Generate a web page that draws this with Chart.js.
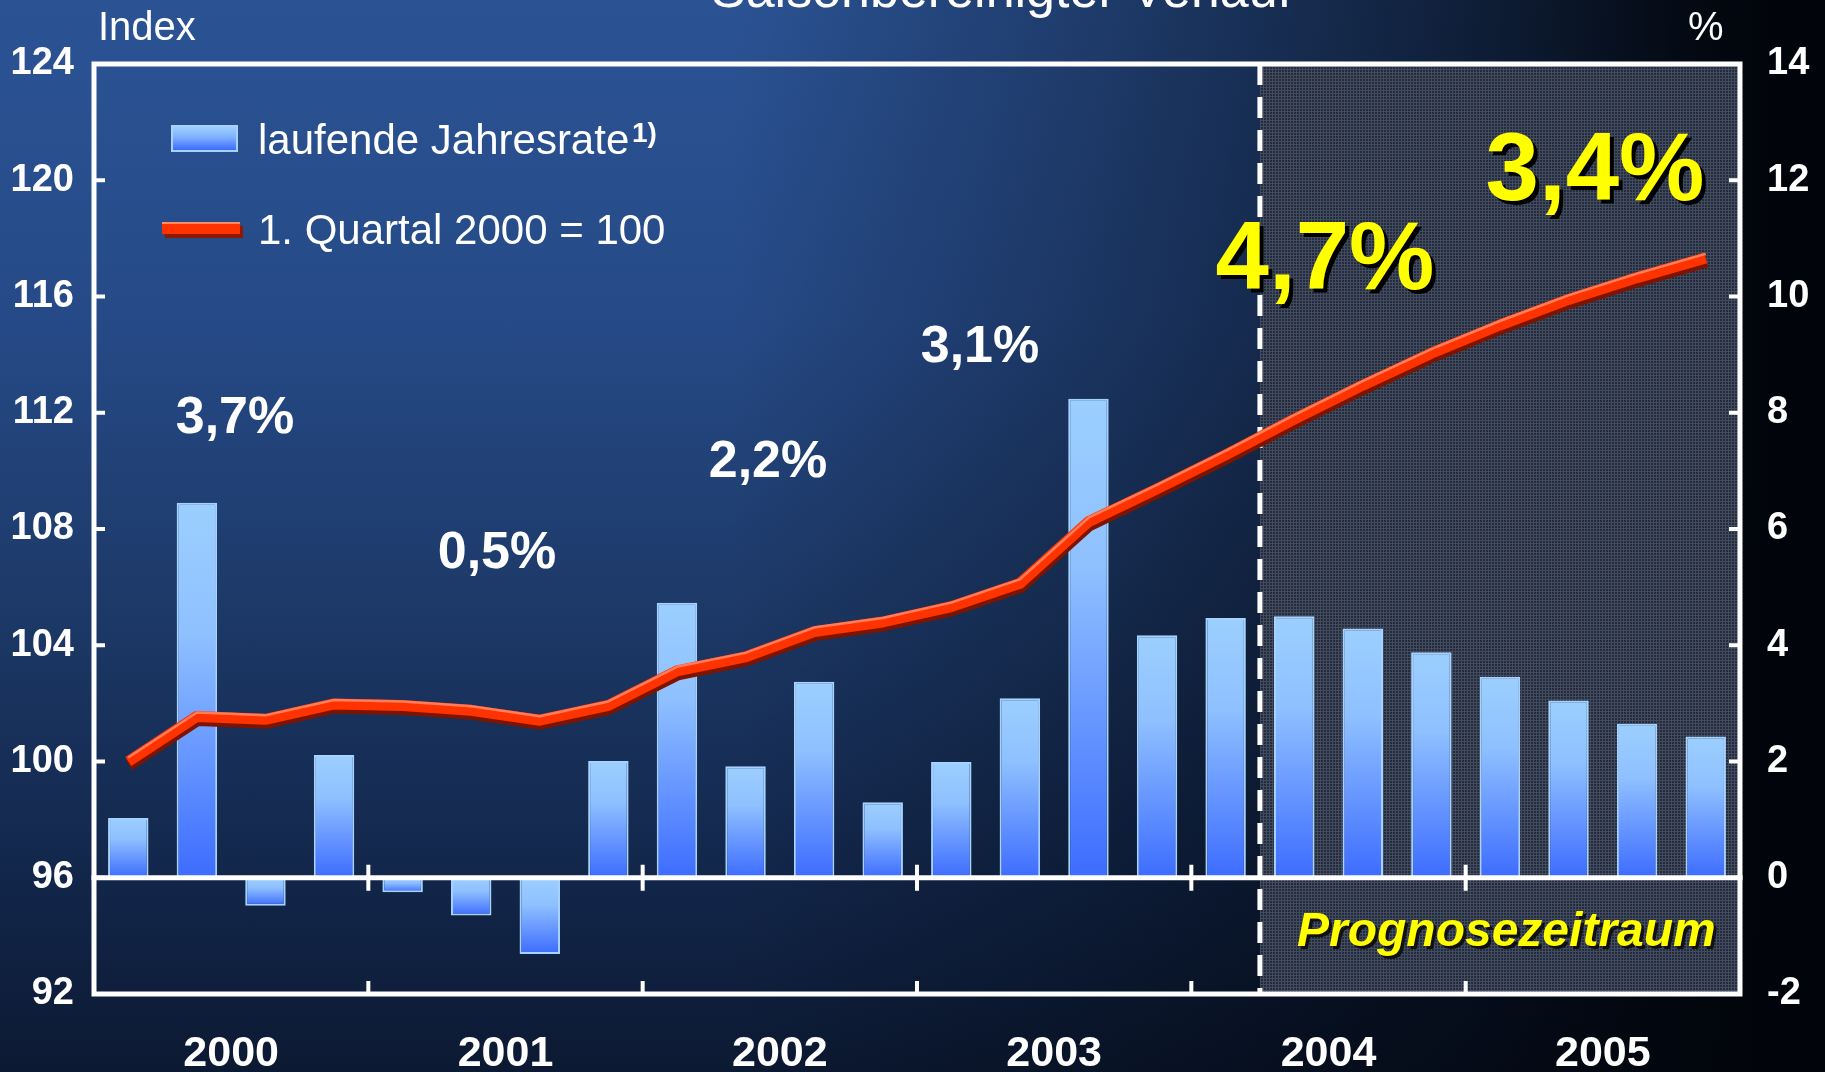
<!DOCTYPE html>
<html lang="de">
<head>
<meta charset="utf-8">
<title>Saisonbereinigter Verlauf</title>
<script src="https://cdn.jsdelivr.net/npm/chart.js@4"></script>
<style>
  html, body {
    margin: 0;
    padding: 0;
    background: #000;
  }
  .stage {
    position: relative;
    width: 1825px;
    height: 1072px;
    overflow: hidden;
    font-family: "Liberation Sans", Arial, sans-serif;
    color: #fff;
    background:
      linear-gradient(90deg, rgba(1, 4, 10, 0) 0%, rgba(1, 4, 10, 0) 40%, rgba(1, 4, 10, 0.3) 60%, rgba(1, 4, 10, 0.65) 80%, rgba(1, 4, 10, 0.92) 92%, rgba(1, 4, 10, 1) 97%),
      linear-gradient(180deg, #2b5394 0%, #264a87 30%, #1c3866 58%, #12264a 82%, #0c1932 100%);
  }
  .stage canvas {
    position: absolute;
    left: 0;
    top: 0;
  }
  .txt {
    position: absolute;
    white-space: nowrap;
    line-height: 1;
  }
  .center {
    text-align: center;
    width: 400px;
  }
  .rate {
    font-weight: bold;
    font-size: 52px;
  }
  .big {
    font-weight: bold;
    font-size: 96px;
    color: #ffff00;
    text-shadow: 4px 4px 0 #000;
  }
  .legend-box {
    position: absolute;
    left: 171px;
    top: 125px;
    width: 63px;
    height: 23px;
    border: 2px solid #a5d2ff;
    background: linear-gradient(180deg, #9dd0ff 0%, #7fb0ff 45%, #3c6cff 100%);
  }
  .legend-line {
    position: absolute;
    left: 162px;
    top: 222px;
    width: 78px;
    height: 10px;
    background: #ff3300;
    border-top: 2px solid #ff8a66;
    box-shadow: 3px 4px 0 #8a1a00;
  }
</style>
</head>
<body>
<div class="stage">
  <canvas id="growthChart" width="1825" height="1072"></canvas>

  <div class="txt center" style="left:711px; top:-37px; font-size:52px;">Saisonbereinigter Verlauf</div>
  <div class="txt" style="left:98px; top:6px; font-size:40px;">Index</div>
  <div class="txt" style="left:1688px; top:6px; font-size:40px;">%</div>

  <div class="legend-box"></div>
  <div class="txt" style="left:258px; top:119px; font-size:42px;">laufende Jahresrate</div>
  <div class="txt" style="left:632px; top:119px; font-size:28px; font-weight:bold;">1)</div>
  <div class="legend-line"></div>
  <div class="txt" style="left:258px; top:209px; font-size:42px;">1. Quartal 2000 = 100</div>

  <div class="txt center rate" style="left:35px; top:389px;">3,7%</div>
  <div class="txt center rate" style="left:297px; top:524px;">0,5%</div>
  <div class="txt center rate" style="left:568px; top:433px;">2,2%</div>
  <div class="txt center rate" style="left:780px; top:318px;">3,1%</div>
  <div class="txt center big" style="left:1125px; top:208px;">4,7%</div>
  <div class="txt center big" style="left:1395px; top:119px;">3,4%</div>

  <div class="txt" style="left:1297px; top:906px; font-size:48px; font-weight:bold; font-style:italic; color:#ffff00; text-shadow:3px 3px 0 #111;">Prognosezeitraum</div>
</div>

<script>
  // Quarters 2000 Q1 - 2005 Q4
  const quarters = [
    "2000 Q1", "2000 Q2", "2000 Q3", "2000 Q4",
    "2001 Q1", "2001 Q2", "2001 Q3", "2001 Q4",
    "2002 Q1", "2002 Q2", "2002 Q3", "2002 Q4",
    "2003 Q1", "2003 Q2", "2003 Q3", "2003 Q4",
    "2004 Q1", "2004 Q2", "2004 Q3", "2004 Q4",
    "2005 Q1", "2005 Q2", "2005 Q3", "2005 Q4",
  ];
  const yearLabels = ["2000", "2001", "2002", "2003", "2004", "2005"];

  // laufende Jahresrate, % (right axis)
  const annualRate = [
    1.03, 6.45, -0.48, 2.11,
    -0.25, -0.65, -1.31, 2.01,
    4.73, 1.92, 3.37, 1.3,
    1.99, 3.09, 8.24, 4.17,
    4.47, 4.5, 4.29, 3.88,
    3.46, 3.05, 2.65, 2.43,
  ];

  // Index, 1. Quartal 2000 = 100 (left axis)
  const indexLevel = [
    100, 101.55, 101.45, 101.98,
    101.93, 101.76, 101.42, 101.93,
    103.12, 103.6, 104.47, 104.8,
    105.33, 106.13, 108.25, 109.38,
    110.55, 111.78, 112.95, 114.05,
    115.02, 115.9, 116.65, 117.33,
  ];

  const leftTicks = { min: 92, max: 124, step: 4 };
  const rightTicks = { min: -2, max: 14, step: 2 };
  const forecastStart = 17; // first quarter of the Prognosezeitraum

  Chart.defaults.font.family = '"Liberation Sans", Arial, sans-serif';
  Chart.defaults.color = "#ffffff";

  // small textured pattern for the forecast area
  function makePattern(ctx) {
    const p = document.createElement("canvas");
    p.width = 3;
    p.height = 3;
    const pc = p.getContext("2d");
    pc.fillStyle = "#232b3d";
    pc.fillRect(0, 0, 3, 3);
    pc.fillStyle = "#434c5f";
    pc.fillRect(0, 0, 3, 1);
    pc.fillRect(0, 0, 1, 3);
    return ctx.createPattern(p, "repeat");
  }

  function boundaryX(x, i) {
    return (x.getPixelForValue(i - 1) + x.getPixelForValue(i)) / 2;
  }

  // forecast background, dashed separator, frame, zero line and inward ticks
  const decorations = {
    id: "decorations",
    beforeDatasetsDraw(chart) {
      const { ctx, chartArea: a, scales } = chart;
      const fx = boundaryX(scales.x, forecastStart);
      ctx.save();
      ctx.fillStyle = makePattern(ctx);
      ctx.fillRect(fx, a.top, a.right - fx, a.bottom - a.top);
      ctx.strokeStyle = "#ffffff";
      ctx.lineWidth = 5;
      ctx.setLineDash([21, 12]);
      ctx.beginPath();
      ctx.moveTo(fx, a.top);
      ctx.lineTo(fx, a.bottom);
      ctx.stroke();
      ctx.restore();
    },
    afterDatasetsDraw(chart) {
      const { ctx, chartArea: a, scales } = chart;
      const zeroY = scales.y2.getPixelForValue(0);
      ctx.save();
      ctx.strokeStyle = "#ffffff";
      ctx.lineWidth = 5;
      ctx.lineCap = "square";

      // frame
      ctx.strokeRect(a.left, a.top, a.right - a.left, a.bottom - a.top);

      // zero line
      ctx.beginPath();
      ctx.moveTo(a.left, zeroY);
      ctx.lineTo(a.right, zeroY);
      ctx.stroke();

      ctx.lineCap = "butt";
      ctx.lineWidth = 4;
      ctx.beginPath();
      // left axis ticks
      for (let v = leftTicks.min + leftTicks.step; v < leftTicks.max; v += leftTicks.step) {
        const y = scales.y.getPixelForValue(v);
        ctx.moveTo(a.left, y);
        ctx.lineTo(a.left + 11, y);
      }
      // right axis ticks
      for (let v = rightTicks.min + rightTicks.step; v < rightTicks.max; v += rightTicks.step) {
        const y = scales.y2.getPixelForValue(v);
        ctx.moveTo(a.right, y);
        ctx.lineTo(a.right - 11, y);
      }
      // year boundaries
      for (let i = 4; i < quarters.length; i += 4) {
        const x = boundaryX(scales.x, i);
        ctx.moveTo(x, zeroY - 13);
        ctx.lineTo(x, zeroY + 13);
        ctx.moveTo(x, a.bottom);
        ctx.lineTo(x, a.bottom - 13);
      }
      ctx.stroke();
      ctx.restore();
    },
  };

  // shadow and highlight for the index line
  const lineStyle = {
    id: "lineStyle",
    beforeDatasetDraw(chart, args) {
      if (args.meta.type !== "line") return;
      const ctx = chart.ctx;
      ctx.save();
      ctx.shadowColor = "#7d1400";
      ctx.shadowOffsetX = 1;
      ctx.shadowOffsetY = 4;
    },
    afterDatasetDraw(chart, args) {
      if (args.meta.type !== "line") return;
      const ctx = chart.ctx;
      ctx.restore();
      const pts = args.meta.data;
      ctx.save();
      ctx.beginPath();
      pts.forEach((p, i) => {
        if (i === 0) ctx.moveTo(p.x, p.y - 4);
        else ctx.lineTo(p.x, p.y - 4);
      });
      ctx.strokeStyle = "rgba(255, 130, 95, 0.95)";
      ctx.lineWidth = 2.5;
      ctx.lineJoin = "round";
      ctx.stroke();
      ctx.restore();
    },
  };

  function barGradient(c) {
    const chart = c.chart;
    const y2 = chart.scales.y2;
    if (!y2 || c.raw === undefined) return "#7fb0ff";
    const y0 = y2.getPixelForValue(0);
    const y1 = y2.getPixelForValue(c.raw);
    if (!Number.isFinite(y0) || !Number.isFinite(y1) || y0 === y1) return "#7fb0ff";
    const g = chart.ctx.createLinearGradient(0, Math.min(y0, y1), 0, Math.max(y0, y1));
    g.addColorStop(0, "#9ccfff");
    g.addColorStop(0.35, "#8fc0ff");
    g.addColorStop(1, "#3d6cff");
    return g;
  }

  const tickFont = { size: 38, weight: "bold" };

  new Chart(document.getElementById("growthChart"), {
    data: {
      labels: quarters,
      datasets: [
        {
          type: "line",
          label: "1. Quartal 2000 = 100",
          data: indexLevel,
          yAxisID: "y",
          borderColor: "#ff3300",
          borderWidth: 11,
          borderJoinStyle: "round",
          borderCapStyle: "butt",
          pointRadius: 0,
          tension: 0,
          order: 0,
        },
        {
          type: "bar",
          label: "laufende Jahresrate",
          data: annualRate,
          yAxisID: "y2",
          backgroundColor: barGradient,
          borderColor: "#a5d2ff",
          borderWidth: 2,
          barPercentage: 0.59,
          categoryPercentage: 1,
          order: 1,
        },
      ],
    },
    options: {
      responsive: false,
      animation: false,
      layout: {
        padding: { top: 64, left: 0, right: 0, bottom: 0 },
      },
      plugins: {
        legend: { display: false },
        tooltip: { enabled: false },
      },
      scales: {
        x: {
          type: "category",
          offset: true,
          grid: { display: false, drawTicks: false },
          border: { display: false },
          ticks: {
            autoSkip: false,
            maxRotation: 0,
            minRotation: 0,
            padding: 34,
            labelOffset: 34.3,
            color: "#ffffff",
            font: { size: 43, weight: "bold" },
            callback: (value, i) => (i % 4 === 1 ? yearLabels[Math.floor(i / 4)] : ""),
          },
          afterFit(scale) {
            scale.height = 78;
          },
        },
        y: {
          position: "left",
          min: leftTicks.min,
          max: leftTicks.max,
          grid: { display: false, drawTicks: false },
          border: { display: false },
          ticks: {
            stepSize: leftTicks.step,
            padding: 20,
            color: "#ffffff",
            font: tickFont,
          },
          afterFit(scale) {
            scale.width = 94;
          },
        },
        y2: {
          position: "right",
          min: rightTicks.min,
          max: rightTicks.max,
          grid: { display: false, drawTicks: false },
          border: { display: false },
          ticks: {
            stepSize: rightTicks.step,
            padding: 27,
            color: "#ffffff",
            font: tickFont,
          },
          afterFit(scale) {
            scale.width = 85;
          },
        },
      },
    },
    plugins: [decorations, lineStyle],
  });
</script>
</body>
</html>
